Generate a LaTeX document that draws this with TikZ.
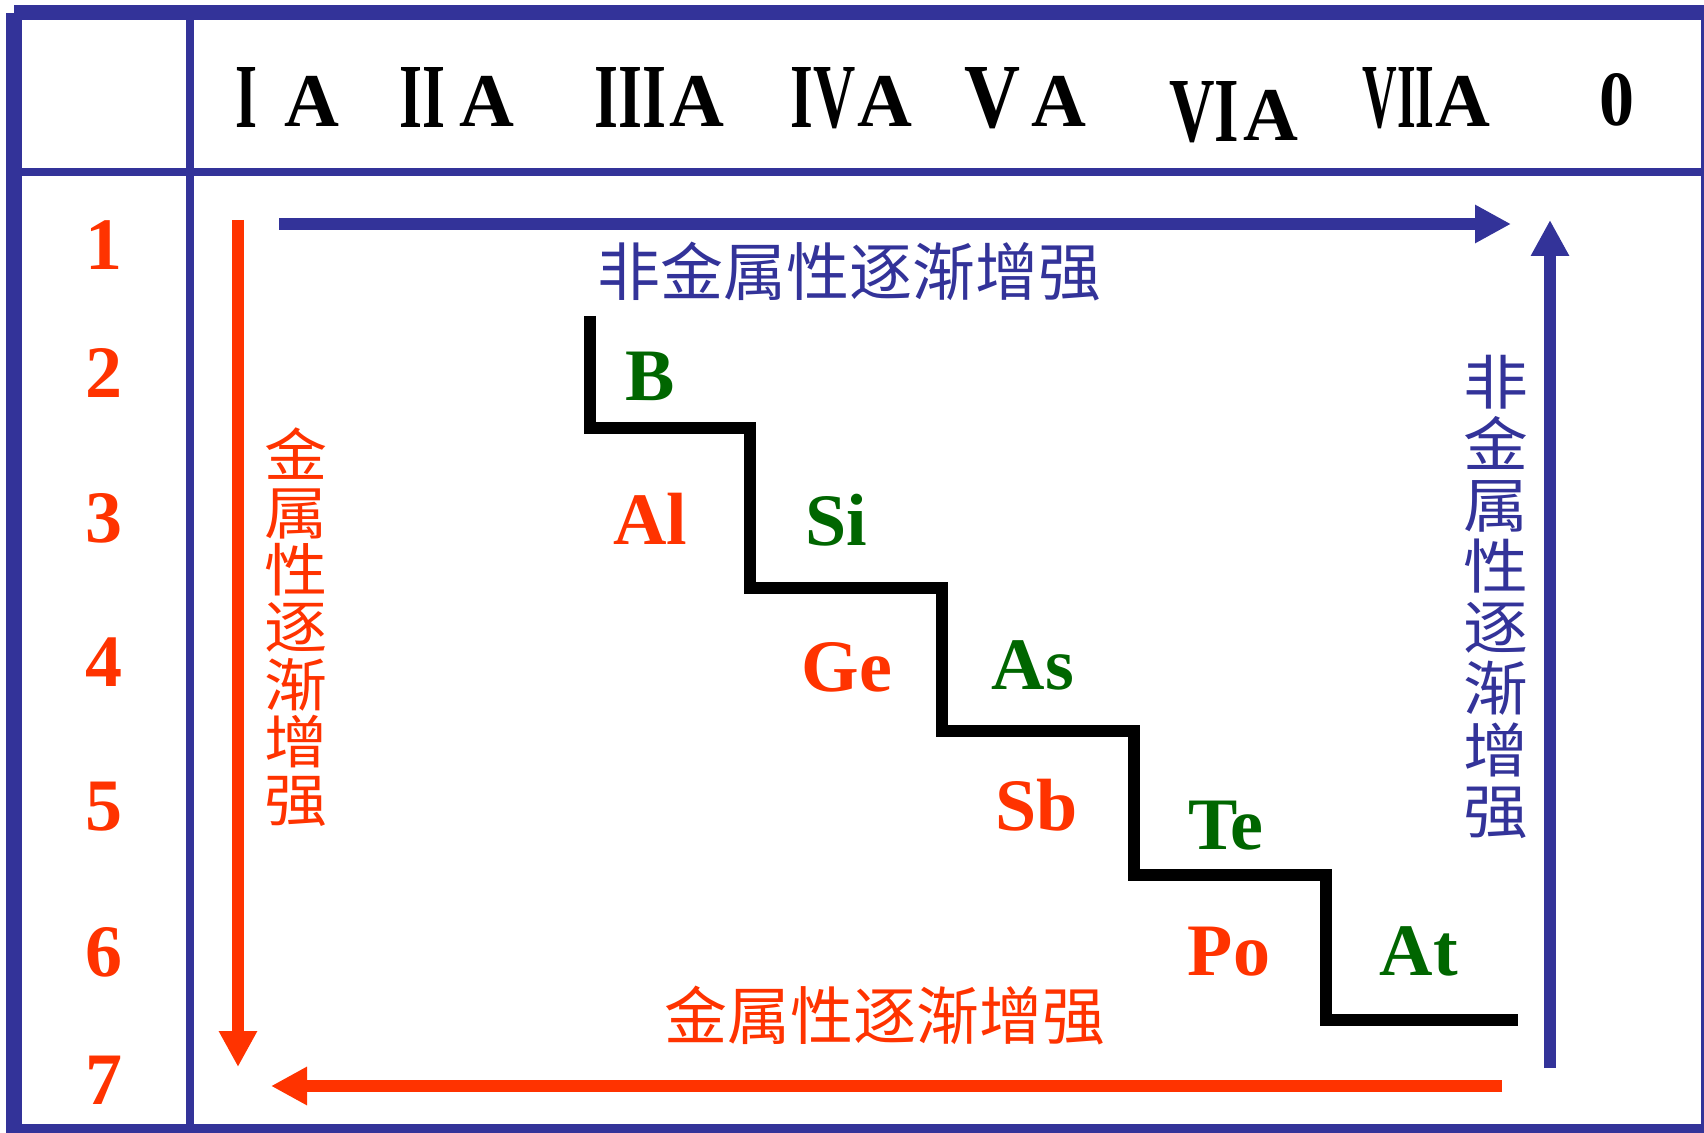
\documentclass[tikz,border=0pt]{standalone}
\usepackage{fontspec}
\setmainfont{Liberation Serif}
\newfontfamily\cjk{Noto Sans CJK SC}
\newfontfamily\cjkwide[FakeStretch=1.1]{Noto Sans CJK SC}
\usepackage{graphicx}
\usepackage{tikz}
\usetikzlibrary{arrows.meta}
\definecolor{pblue}{HTML}{333399}
\definecolor{pred}{HTML}{FF3300}
\definecolor{pgreen}{HTML}{006600}
\newcommand{\romn}[2]{\resizebox{#1}{30pt}{#2}}
\tikzset{grp/.style={anchor=base west,inner sep=0,font=\fontsize{38}{38}\selectfont\bfseries},per/.style={anchor=base,inner sep=0,text=pred,font=\fontsize{37}{37}\selectfont\bfseries},metal/.style={anchor=base,inner sep=0,text=pred,font=\fontsize{37}{37}\selectfont\bfseries},nonmetal/.style={metal,text=pgreen},trend/.style={-{Triangle[length=18pt,width=18pt]},line width=6pt},hlabel/.style={inner sep=0,font=\cjk\fontsize{31.5}{31.5}\selectfont},vlabel/.style={inner sep=0,align=center}}

\begin{document}
\begin{tikzpicture}[x=0.5pt,y=-0.5pt,stair/.style={line width=6pt,draw=black}]
\useasboundingbox (0,0) rectangle (1704,1133);
\fill[pblue] (14,5) rectangle (1704,20);
\fill[pblue] (6,13) rectangle (22,1133);
\fill[pblue] (6,1124) rectangle (1704,1133);
\fill[pblue] (1701,5) rectangle (1704,1133);
\fill[pblue] (22,168) rectangle (1704,176);
\fill[pblue] (186,20) rectangle (194,1124);
\foreach \nx/\nw/\rom/\ax/\by [count=\i] in {235/11/I/284/127,399/23/II/459/127,594/36/III/669/127,790/32.5/IV/857/127,964/28/V/1031/127,1169/35/VI/1243/141,1362/36/VII/1435/127}{\node[grp] (n\i) at (\nx,\by+1) {\romn{\nw pt}{\rom}};\node[grp] (a\i) at (\ax,\by) {A};}
\node[grp] (n8) at (1599,126) {\resizebox{17.5pt}{26pt}{0}};
\foreach \y [count=\i] in {270,398,543,687,831,976,1104}{\node[per] (p\i) at (104,\y) {\i};}
\foreach \x/\y/\s/\st in {650/401/B/nonmetal,650/545/Al/metal,836/546/Si/nonmetal,847/692/Ge/metal,1033/690/As/nonmetal,1037/831/Sb/metal,1226/849/Te/nonmetal,1229/975/Po/metal,1419/975/At/nonmetal}{\node[\st] (\s) at (\x,\y) {\s};}
\draw[stair] (590,316) |- (750,428) |- (942,588) |- (1134,731) |- (1326,875) |- (1518,1020);
\coordinate (nmh0) at (279,224); \coordinate (nmh1) at (1511,224);
\coordinate (nmv0) at (1550,1068); \coordinate (nmv1) at (1550,220);
\coordinate (mv0) at (238,220); \coordinate (mv1) at (238,1067);
\coordinate (mh0) at (1502,1086); \coordinate (mh1) at (271,1086);
\draw[trend,pblue] (nmh0)--(nmh1);
\draw[trend,pblue] (nmv0)--(nmv1);
\draw[trend,pred] (mv0)--(mv1);
\draw[trend,pred] (mh0)--(mh1);
\node[hlabel,text=pblue] (nmhl) at (849.5,272) {非金属性逐渐增强};
\node[hlabel,text=pred] (mhl) at (884.5,1015.5) {金属性逐渐增强};
\node[vlabel,text=pred,font=\cjkwide\fontsize{28.7}{28.7}\selectfont] (mvl) at (296.5,627) {金\\属\\性\\逐\\渐\\增\\强};
\node[vlabel,text=pblue,font=\cjkwide\fontsize{29.5}{30.6}\selectfont] (nmvl) at (1496,597) {非\\金\\属\\性\\逐\\渐\\增\\强};
\end{tikzpicture}
\end{document}
